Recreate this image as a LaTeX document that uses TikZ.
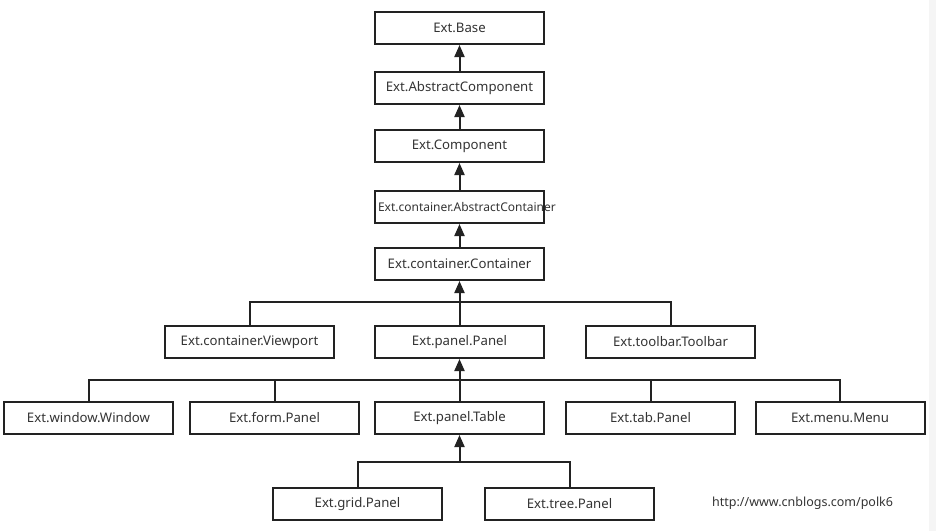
\documentclass[tikz,border=0pt]{standalone}
\usepackage{fontspec}
\setmainfont{Noto Sans}
\usetikzlibrary{arrows.meta}
\definecolor{ink}{HTML}{222222}
\definecolor{txt}{HTML}{333333}
\begin{document}
\begin{tikzpicture}[x=1pt,y=-1pt,
  cls/.style={draw=ink,line width=2pt,minimum width=169pt,minimum height=32pt,inner sep=3pt,
    font=\fontsize{13.2}{15}\selectfont,text=txt},
  link/.style={draw=ink,line width=2pt},
  inherit/.style={link,-{Triangle[length=12pt,width=10pt]}}]
\useasboundingbox (0,0) rectangle (936,531);
\fill[gray!8] (929,0) rectangle (936,531);
% column
\node[cls] (base) at (459.5,28) {Ext.Base};
\node[cls] (abscomp) at (459.5,88) {Ext.AbstractComponent};
\node[cls] (comp) at (459.5,146) {Ext.Component};
\node[cls,font=\fontsize{12}{13}\selectfont] (abscont) at (459.5,207) {\makebox[163pt][l]{Ext.container.AbstractContainer}};
\node[cls] (cont) at (459.5,264) {Ext.container.Container};
% row 2
\node[cls] (viewport) at (249.5,342) {Ext.container.Viewport};
\node[cls] (panel) at (459.5,342) {Ext.panel.Panel};
\node[cls] (toolbar) at (670.5,342) {Ext.toolbar.Toolbar};
% row 3
\node[cls] (window) at (88.5,418) {Ext.window.Window};
\node[cls] (form) at (274.5,418) {Ext.form.Panel};
\node[cls] (table) at (459.5,418) {Ext.panel.Table};
\node[cls] (tab) at (650.5,418) {Ext.tab.Panel};
\node[cls] (menu) at (840,418) {Ext.menu.Menu};
% row 4
\node[cls] (grid) at (357.5,504) {Ext.grid.Panel};
\node[cls] (tree) at (569.5,504) {Ext.tree.Panel};
% url
\node[anchor=west,inner sep=0pt,font=\fontsize{12.5}{14}\selectfont,text=txt] (url) at (712,503) {http://www.cnblogs.com/polk6};
% junctions
\coordinate (j1) at (459.5,302);
\coordinate (j2) at (459.5,380);
\coordinate (j3) at (459.5,462);
% connectors
\draw[inherit] (abscomp.north) -- (base.south);
\draw[inherit] (comp.north) -- (abscomp.south);
\draw[inherit] (abscont.north) -- (comp.south);
\draw[inherit] (cont.north) -- (abscont.south);
\draw[inherit] (panel.north) -- (cont.south);
\draw[link] (viewport.north) |- (j1) -| (toolbar.north);
\draw[inherit] (table.north) -- (panel.south);
\draw[link] (window.north) |- (j2) -| (menu.north);
\draw[link] (form.north) -- (form.north |- j2);
\draw[link] (tab.north) -- (tab.north |- j2);
\draw[link] (grid.north) |- (j3) -| (tree.north);
\draw[inherit] (j3) -- (table.south);
\end{tikzpicture}
\end{document}
